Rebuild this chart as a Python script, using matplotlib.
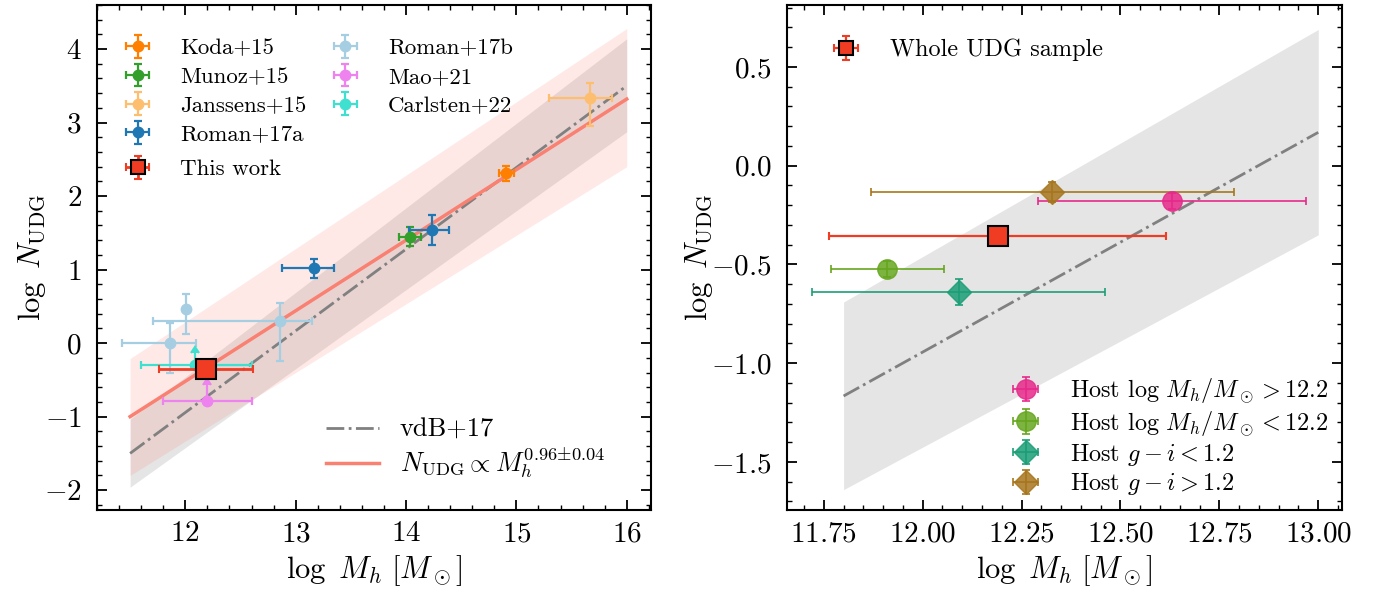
import matplotlib.pyplot as plt
from matplotlib.ticker import MultipleLocator
import numpy as np

plt.rcParams["font.family"] = "serif"
plt.rcParams["font.serif"] = ["cmr10"]
plt.rcParams["mathtext.fontset"] = "cm"
plt.rcParams["axes.formatter.use_mathtext"] = True

tick_fontsize = 21
label_fontsize = 22
legend_fontsize = 16.5
right_legend_fontsize = 17.5
line_legend_fontsize = 19

# ---------------- left panel: literature compilation ----------------
koda_x = [14.91]
koda_y = [2.31]
koda_xerr = [[0.07], [0.07]]
koda_yerr = [[0.10], [0.10]]

munoz_x = [14.04]
munoz_y = [1.45]
munoz_xerr = [[0.10], [0.10]]
munoz_yerr = [[0.13], [0.13]]

janssens_x = [15.67]
janssens_y = [3.34]
janssens_xerr = [[0.37], [0.20]]
janssens_yerr = [[0.39], [0.20]]

roman17a_x = [13.17, 14.24]
roman17a_y = [1.02, 1.54]
roman17a_xerr = [[0.29, 0.21], [0.18, 0.15]]
roman17a_yerr = [[0.14, 0.20], [0.13, 0.20]]

roman17b_x = [11.86, 12.01, 12.86]
roman17b_y = [0.00, 0.47, 0.30]
roman17b_xerr = [[0.43, 0.0, 1.15], [0.24, 0.0, 0.29]]
roman17b_yerr = [[0.40, 0.35, 0.55], [0.28, 0.20, 0.24]]

mao_x = [12.20]
mao_y = [-0.79]
mao_xerr = [[0.40], [0.40]]
mao_yerr = [0.22]

carlsten_x = [12.09]
carlsten_y = [-0.30]
carlsten_xerr = [[0.49], [0.51]]
carlsten_yerr = [0.16]

thiswork_x = [12.19]
thiswork_y = [-0.355]
thiswork_xerr = [[0.426], [0.426]]
thiswork_yerr = [[0.06], [0.06]]

# relations (end points)
rel_x = [11.5, 16.0]
fit_y = [-1.00, 3.32]
fit_lo = [-1.80, 2.40]
fit_hi = [-0.21, 4.28]
vdb_y = [-1.50, 3.50]
vdb_lo = [-1.96, 2.875]
vdb_hi = [-1.035, 4.14]

# ---------------- right panel: host subsamples ----------------
rel2_x = [11.8, 13.0]
vdb2_y = [-1.166, 0.169]
vdb2_lo = [-1.64, -0.35]
vdb2_hi = [-0.69, 0.69]

host_labels = [
	r"Host $\log\,M_h/M_\odot>12.2$",
	r"Host $\log\,M_h/M_\odot<12.2$",
	r"Host $g-i<1.2$",
	r"Host $g-i>1.2$",
]
host_x = [12.630, 11.910, 12.091, 12.328]
host_y = [-0.179, -0.522, -0.640, -0.133]
host_xerr = [0.339, 0.143, 0.370, 0.458]
host_yerr = [0.04, 0.04, 0.067, 0.05]
host_colors = ["#e7298a", "#66a61e", "#1b9e77", "#a6761d"]
host_markers = ["o", "o", "D", "D"]
host_ms = [14, 14, 12.5, 12.5]


red = "#f03c23"

fig = plt.figure(figsize=(13.74, 5.91), dpi=100)
ax1 = fig.add_axes([0.0706, 0.1371, 0.4032, 0.8545])
ax2 = fig.add_axes([0.5728, 0.1371, 0.4039, 0.8545])

# ---- left
ax1.fill_between(rel_x, vdb_lo, vdb_hi, color="grey", alpha=0.2, lw=0)
ax1.fill_between(rel_x, fit_lo, fit_hi, color="salmon", alpha=0.17, lw=0)
l_vdb, = ax1.plot(rel_x, vdb_y, color="grey", ls="-.", lw=2, label="vdB+17")
l_fit, = ax1.plot(rel_x, fit_y, color="salmon", ls="-", lw=2.5,
	label=r"$N_{\rm UDG}\propto M_h^{0.96{\pm}0.04}$")

ekw = dict(fmt="o", ms=7.5, capsize=3, elinewidth=1.6, capthick=1.6)

h_koda = ax1.errorbar(koda_x, koda_y, xerr=koda_xerr, yerr=koda_yerr,
	color="#ff7f00", label="Koda+15", **ekw)
h_munoz = ax1.errorbar(munoz_x, munoz_y, xerr=munoz_xerr, yerr=munoz_yerr,
	color="#33a02c", label="Munoz+15", **ekw)
h_jans = ax1.errorbar(janssens_x, janssens_y, xerr=janssens_xerr, yerr=janssens_yerr,
	color="#fdbf6f", label="Janssens+15", **ekw)
h_r17a = ax1.errorbar(roman17a_x, roman17a_y, xerr=roman17a_xerr, yerr=roman17a_yerr,
	color="#1f78b4", label="Roman+17a", **ekw)
h_r17b = ax1.errorbar(roman17b_x, roman17b_y, xerr=roman17b_xerr, yerr=roman17b_yerr,
	color="#a6cee3", label="Roman+17b", **ekw)
h_mao = ax1.errorbar(mao_x, mao_y, xerr=mao_xerr, yerr=mao_yerr, lolims=True,
	color="#ee82ee", label="Mao+21", **ekw)
h_carl = ax1.errorbar(carlsten_x, carlsten_y, xerr=carlsten_xerr, yerr=carlsten_yerr,
	lolims=True, color="#40e0d0", label="Carlsten+22", **ekw)
h_this = ax1.errorbar(thiswork_x, thiswork_y, xerr=thiswork_xerr, yerr=thiswork_yerr,
	fmt="s", ms=15, mfc=red, mec="k", mew=1.5, color=red, capsize=3,
	elinewidth=2, capthick=2, label="This work", zorder=10)

leg1 = ax1.legend(handles=[h_koda, h_munoz, h_jans, h_r17a, h_r17b, h_mao, h_carl],
	loc="upper left", bbox_to_anchor=(-0.005, 0.975), ncol=2, frameon=False,
	fontsize=legend_fontsize, columnspacing=0.7, labelspacing=0.38,
	handletextpad=0.85)
ax1.add_artist(leg1)
leg2 = ax1.legend(handles=[h_this], loc="center left", bbox_to_anchor=(-0.005, 0.675),
	frameon=False, fontsize=legend_fontsize, markerscale=0.7, handletextpad=0.85)
ax1.add_artist(leg2)
ax1.legend(handles=[l_vdb, l_fit], loc="lower right", frameon=False,
	fontsize=line_legend_fontsize, labelspacing=0.15, bbox_to_anchor=(0.96, 0.01))

ax1.set_xlim(11.20, 16.22)
ax1.set_ylim(-2.27, 4.6)
ax1.xaxis.set_major_locator(MultipleLocator(1))
ax1.xaxis.set_minor_locator(MultipleLocator(0.2))
ax1.yaxis.set_major_locator(MultipleLocator(1))
ax1.yaxis.set_minor_locator(MultipleLocator(0.2))
ax1.set_xlabel(r"$\log\ M_h\ [M_\odot]$", fontsize=label_fontsize)
ax1.set_ylabel(r"$\log\ N_{\rm UDG}$", fontsize=label_fontsize, labelpad=-3)

# ---- right
ax2.fill_between(rel2_x, vdb2_lo, vdb2_hi, color="grey", alpha=0.2, lw=0)
ax2.plot(rel2_x, vdb2_y, color="grey", ls="-.", lw=2)

host_handles = []
for i in range(len(host_labels)):
	h = ax2.errorbar([host_x[i]], [host_y[i]], xerr=[host_xerr[i]], yerr=[host_yerr[i]],
		fmt=host_markers[i], ms=host_ms[i], color=host_colors[i], alpha=0.85,
		capsize=3, elinewidth=1.4, capthick=1.4, label=host_labels[i])
	host_handles.append(h)

h_whole = ax2.errorbar(thiswork_x, thiswork_y, xerr=thiswork_xerr, yerr=[[0.02], [0.02]],
	fmt="s", ms=15, mfc=red, mec="k", mew=1.5, color=red, capsize=3,
	elinewidth=1.6, capthick=1.6, label="Whole UDG sample", zorder=10)

leg3 = ax2.legend(handles=[h_whole], loc="upper left", bbox_to_anchor=(0.023, 0.976),
	frameon=False, fontsize=right_legend_fontsize, markerscale=0.7)
ax2.add_artist(leg3)
ax2.legend(handles=host_handles, loc="lower right", bbox_to_anchor=(1.016, -0.018),
	frameon=False, fontsize=right_legend_fontsize, labelspacing=0.15,
	handletextpad=0.85)

ax2.set_xlim(11.657, 13.06)
ax2.set_ylim(-1.743, 0.814)
ax2.xaxis.set_major_locator(MultipleLocator(0.25))
ax2.xaxis.set_minor_locator(MultipleLocator(0.05))
ax2.yaxis.set_major_locator(MultipleLocator(0.5))
ax2.yaxis.set_minor_locator(MultipleLocator(0.1))
ax2.xaxis.set_major_formatter(plt.FormatStrFormatter("$%.2f$"))
ax2.yaxis.set_major_formatter(plt.FormatStrFormatter("$%.1f$"))
ax2.set_xlabel(r"$\log\ M_h\ [M_\odot]$", fontsize=label_fontsize)
ax2.set_ylabel(r"$\log\ N_{\rm UDG}$", fontsize=label_fontsize, labelpad=-3)

for ax in [ax1, ax2]:
	ax.tick_params(which="both", direction="in", top=True, right=True,
		labelsize=tick_fontsize)
	ax.tick_params(axis="x", which="both", pad=8)
	ax.tick_params(axis="y", which="both", pad=11)
	ax.tick_params(which="major", length=7, width=1.3)
	ax.tick_params(which="minor", length=3.5, width=1.0)
	for s in ax.spines.values():
		s.set_linewidth(1.5)

fig.savefig("out.png", dpi=100)
